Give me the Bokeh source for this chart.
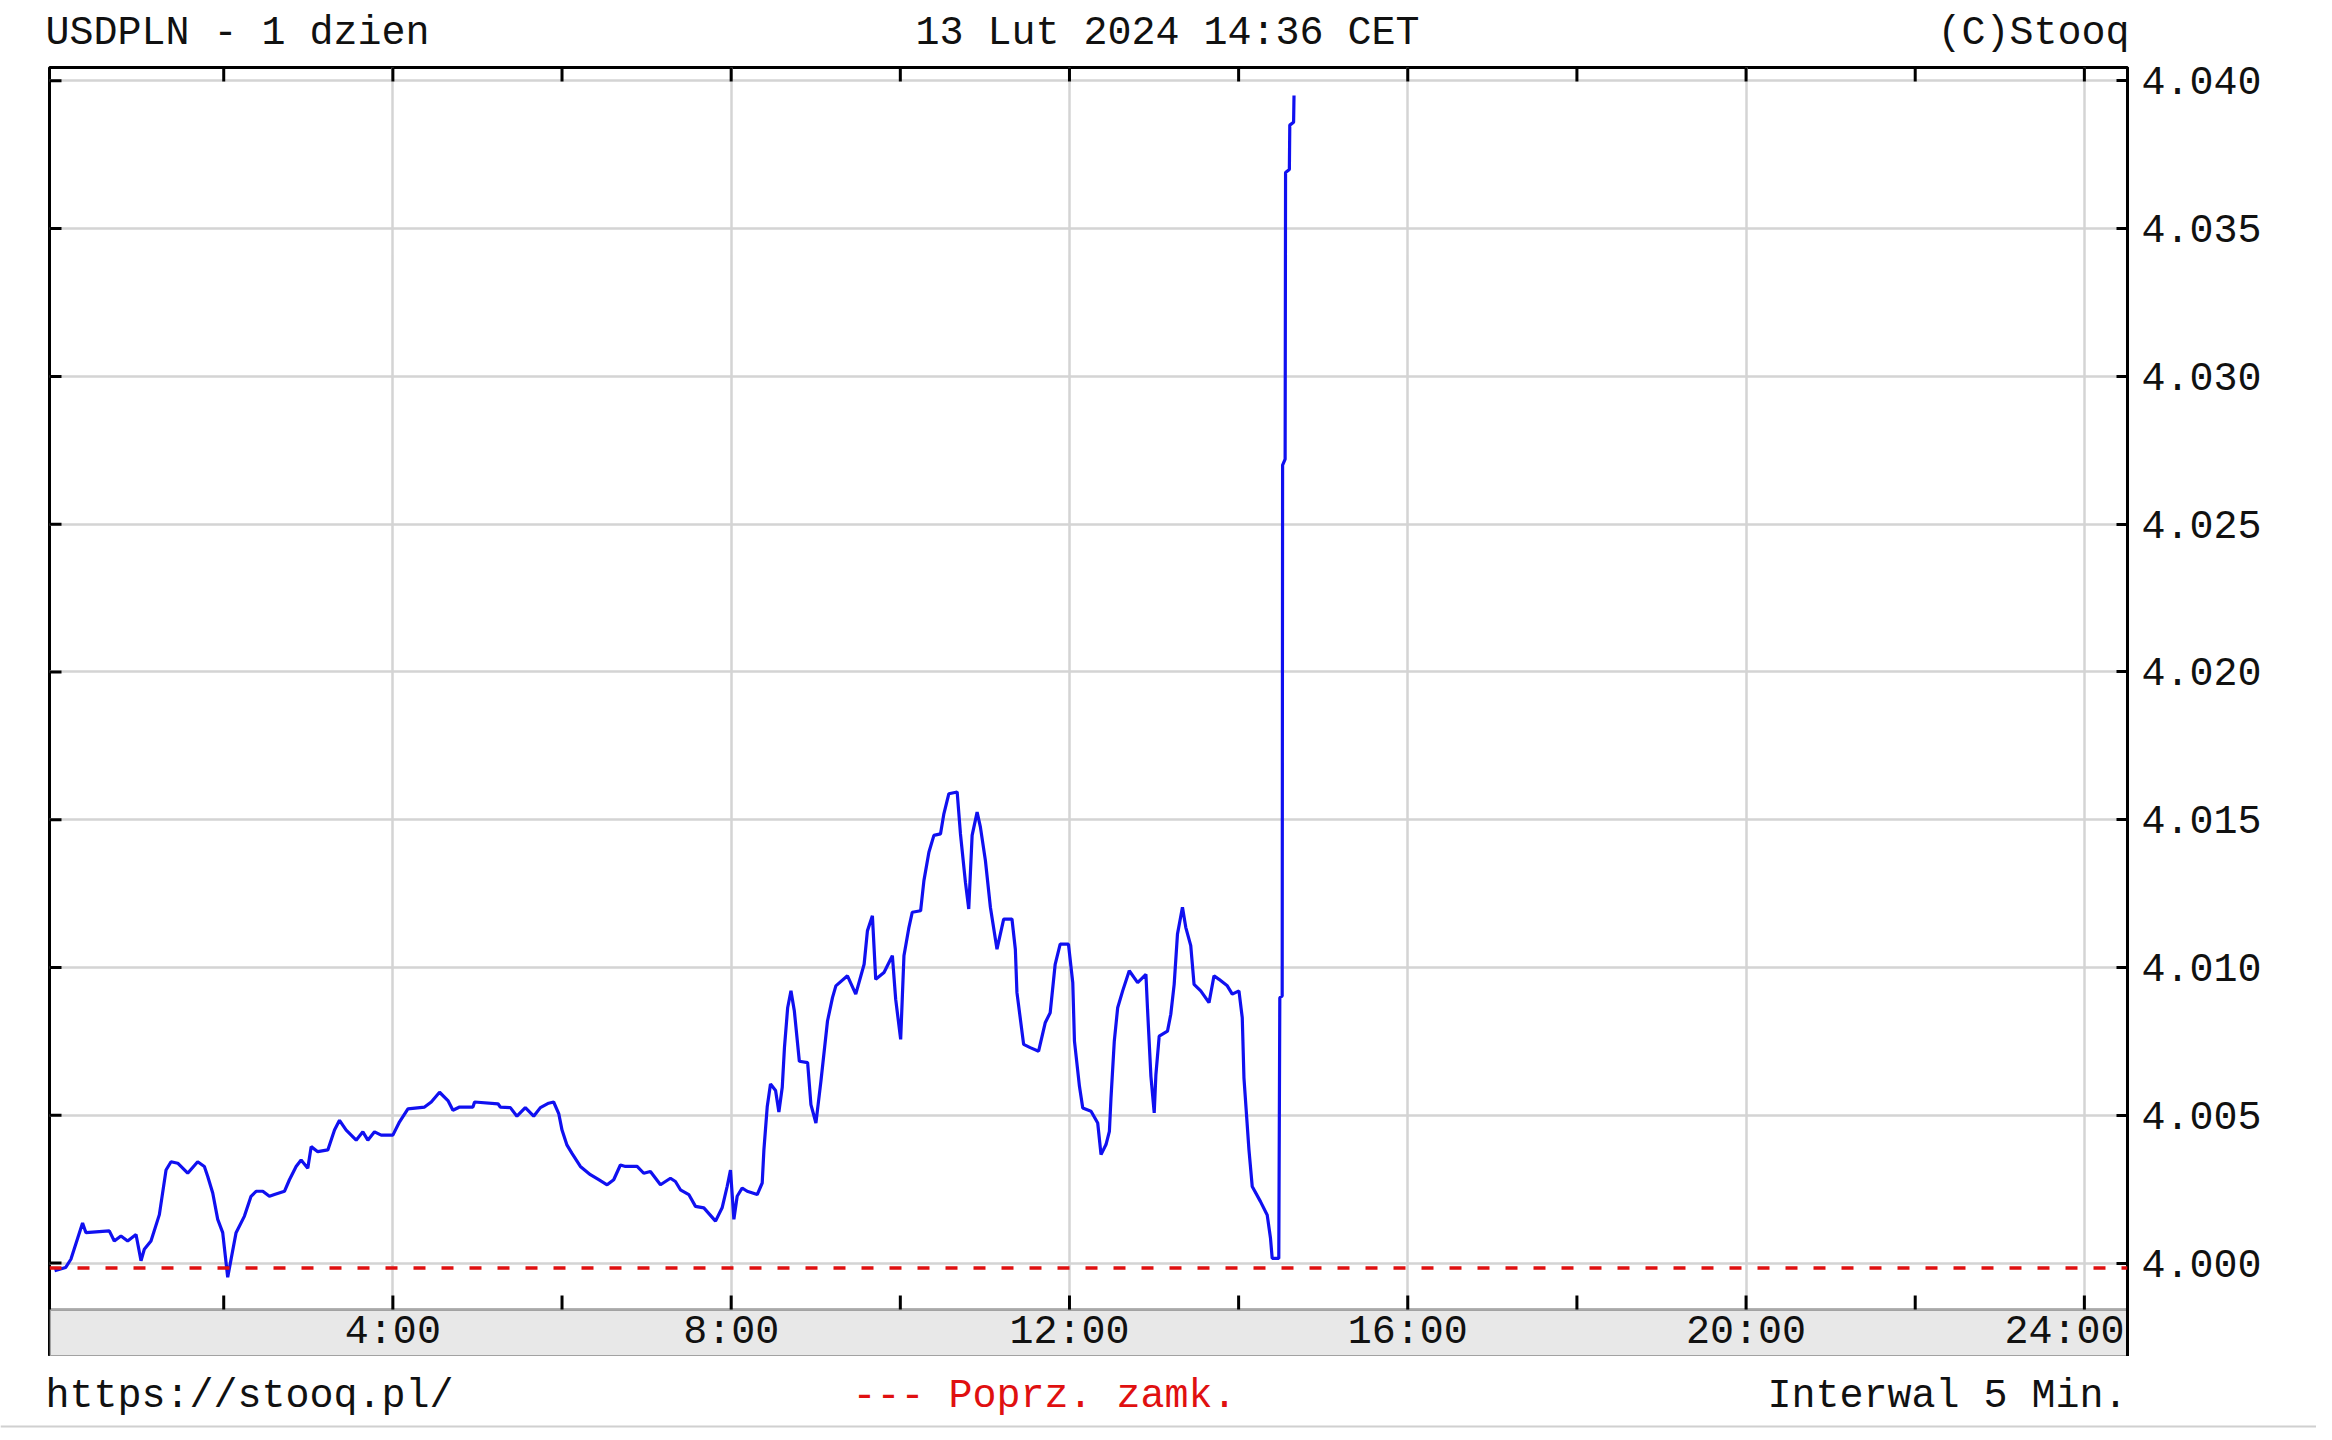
from bokeh.plotting import figure
from bokeh.models import FixedTicker, Span, BoxAnnotation, Range1d
from bokeh.layouts import column
from bokeh.core.properties import value
from bokeh.embed import file_html
from bokeh.resources import INLINE

# ---------------- data ----------------
hours = [0.00, 0.13, 0.193, 0.331, 0.371, 0.647, 0.706, 0.785, 0.864, 0.963, 1.022, 1.061, 1.140,
         1.239, 1.318, 1.377, 1.456, 1.574, 1.692, 1.771, 1.811, 1.870, 1.929, 1.988, 2.047, 2.087,
         2.146, 2.245, 2.323, 2.383, 2.462, 2.540, 2.600, 2.718, 2.777, 2.856, 2.915, 2.994, 3.034,
         3.112, 3.231, 3.310, 3.369, 3.448, 3.566, 3.645, 3.704, 3.783, 3.862, 4.000, 4.079, 4.178,
         4.375, 4.454, 4.552, 4.651, 4.710, 4.789, 4.947, 4.966, 5.243, 5.270, 5.389, 5.467, 5.566,
         5.665, 5.744, 5.842, 5.901, 5.961, 6.000, 6.059, 6.118, 6.217, 6.335, 6.434, 6.533, 6.611,
         6.690, 6.750, 6.888, 6.966, 7.045, 7.164, 7.282, 7.341, 7.400, 7.499, 7.578, 7.677, 7.815,
         7.893, 7.953, 7.992, 8.032, 8.071, 8.130, 8.189, 8.308, 8.367, 8.387, 8.426, 8.465, 8.525,
         8.564, 8.604, 8.630, 8.668, 8.707, 8.747, 8.806, 8.904, 8.943, 9.002, 9.061, 9.139, 9.198,
         9.238, 9.375, 9.473, 9.572, 9.611, 9.670, 9.709, 9.807, 9.906, 9.945, 10.004, 10.043,
         10.102, 10.141, 10.240, 10.279, 10.338, 10.397, 10.475, 10.515, 10.574, 10.672, 10.711,
         10.770, 10.809, 10.849, 10.908, 10.947, 11.006, 11.065, 11.143, 11.222, 11.320, 11.360,
         11.379, 11.458, 11.536, 11.635, 11.713, 11.772, 11.831, 11.890, 11.988, 12.039, 12.059,
         12.118, 12.157, 12.255, 12.334, 12.373, 12.432, 12.472, 12.491, 12.530, 12.570, 12.629,
         12.707, 12.806, 12.904, 12.923, 12.963, 13.002, 13.022, 13.061, 13.159, 13.198, 13.238,
         13.277, 13.336, 13.375, 13.434, 13.473, 13.552, 13.650, 13.709, 13.768, 13.866, 13.925,
         14.004, 14.043, 14.063, 14.122, 14.161, 14.259, 14.338, 14.377, 14.397, 14.475, 14.487,
         14.515, 14.520, 14.550, 14.555, 14.600, 14.605, 14.650, 14.655]
rates = [3.99974, 3.99985, 4.00013, 4.00136, 4.00103, 4.00109, 4.00075, 4.00092, 4.00075, 4.00097,
         4.00008, 4.00047, 4.00075, 4.00164, 4.00315, 4.00343, 4.00338, 4.00304, 4.00343, 4.00327,
         4.00293, 4.00237, 4.00148, 4.00103, 3.99952, 4.00013, 4.00103, 4.00159, 4.00226, 4.00243,
         4.00243, 4.00226, 4.00232, 4.00243, 4.00282, 4.00327, 4.00349, 4.00321, 4.00394, 4.00377,
         4.00383, 4.00450, 4.00483, 4.00450, 4.00416, 4.00444, 4.00416, 4.00444, 4.00433, 4.00433,
         4.00478, 4.00522, 4.00528, 4.00545, 4.00578, 4.00550, 4.00517, 4.00528, 4.00528, 4.00545,
         4.00539, 4.00528, 4.00526, 4.00497, 4.00526, 4.00497, 4.00526, 4.00541, 4.00545, 4.00506,
         4.00450, 4.00399, 4.00371, 4.00327, 4.00299, 4.00282, 4.00265, 4.00282, 4.00332, 4.00327,
         4.00327, 4.00304, 4.00310, 4.00265, 4.00287, 4.00276, 4.00248, 4.00232, 4.00192, 4.00187,
         4.00142, 4.00187, 4.00260, 4.00315, 4.00148, 4.00226, 4.00254, 4.00243, 4.00232, 4.00271,
         4.00383, 4.00528, 4.00606, 4.00584, 4.00511, 4.00595, 4.00729, 4.00864, 4.00921, 4.00853,
         4.00683, 4.00678, 4.00536, 4.00474, 4.00615, 4.00819, 4.00898, 4.00938, 4.00972, 4.00910,
         4.01011, 4.01124, 4.01175, 4.00960, 4.00983, 4.01040, 4.00893, 4.00757, 4.01040, 4.01136,
         4.01187, 4.01192, 4.01294, 4.01390, 4.01447, 4.01452, 4.01520, 4.01588, 4.01594, 4.01452,
         4.01288, 4.01198, 4.01447, 4.01526, 4.01475, 4.01362, 4.01204, 4.01062, 4.01164, 4.01164,
         4.01062, 4.00915, 4.00740, 4.00729, 4.00717, 4.00813, 4.00847, 4.01011, 4.01079, 4.01079,
         4.00949, 4.00751, 4.00598, 4.00525, 4.00514, 4.00474, 4.00367, 4.00401, 4.00446, 4.00559,
         4.00751, 4.00864, 4.00921, 4.00989, 4.00949, 4.00977, 4.00859, 4.00632, 4.00508, 4.00638,
         4.00768, 4.00785, 4.00842, 4.00943, 4.01113, 4.01204, 4.01136, 4.01074, 4.00943, 4.00921,
         4.00881, 4.00972, 4.00960, 4.00938, 4.00910, 4.00921, 4.00830, 4.00627, 4.00384, 4.00259,
         4.00208, 4.00163, 4.00084, 4.00016, 4.00016, 4.00898, 4.00904, 4.02700, 4.02720, 4.03690,
         4.03700, 4.03850, 4.03860, 4.03950]
prev_close = 3.99983

y_ticks = [4.000, 4.005, 4.010, 4.015, 4.020, 4.025, 4.030, 4.035, 4.040]
y_tick_labels = ["4.000", "4.005", "4.010", "4.015", "4.020", "4.025", "4.030", "4.035", "4.040"]
x_minor_ticks = [2, 4, 6, 8, 10, 12, 14, 16, 18, 20, 22, 24]
x_grid_ticks = [4, 8, 12, 16, 20, 24]
x_tick_labels = ["4:00", "8:00", "12:00", "16:00", "20:00", "24:00"]

title_left = "USDPLN - 1 dzien"
title_center = "13 Lut 2024 14:36 CET"
title_right = "(C)Stooq"
foot_left = "https://stooq.pl/"
foot_center = "--- Poprz. zamk."
foot_right = "Interwal 5 Min."

# ---------------- layout ----------------
W = 2316
HEAD_H = 57
MAIN_TOP = 10
FL, FR = 49, 2127
FRAME_H = 1289
MAIN_H = MAIN_TOP + FRAME_H
FOOT_H = 76
FT, FB = MAIN_TOP, MAIN_TOP + FRAME_H
X0, X1 = -0.06, 24.51
Y0, Y1 = 3.99684, 4.04045
BAND_TOP_PX = 1252
BAND_MID_PX = 1275

FONT = "Liberation Mono"
FS = "40px"
INK = "#111111"
RED = "#e01010"


def dx(px):
    return X0 + (px - FL) / (FR - FL) * (X1 - X0)


def dy(py):
    return Y1 - (py - FT) / (FB - FT) * (Y1 - Y0)


def strip_fig(h):
    f = figure(width=W, height=h, output_backend="svg", toolbar_location=None,
               x_range=Range1d(0, W), y_range=Range1d(h, 0),
               x_axis_location=None, y_axis_location=None,
               min_border=0, min_border_left=0, min_border_right=0,
               min_border_top=0, min_border_bottom=0, frame_align=False)
    f.title.visible = False
    f.outline_line_color = None
    f.xgrid.visible = False
    f.ygrid.visible = False
    f.background_fill_color = "white"
    f.border_fill_color = "white"
    return f


def txt(f, x, y, t, align, color=INK):
    f.text(x=[x], y=[y], text=[t], text_font=value(FONT), text_font_size=FS,
           text_align=align, text_baseline="middle", text_color=color)


# header
head = strip_fig(HEAD_H)
txt(head, 45, 33, title_left, "left")
txt(head, 1167, 33, title_center, "center")
txt(head, 2129, 33, title_right, "right")

# main chart
p = figure(width=W, height=MAIN_H, output_backend="svg", toolbar_location=None,
           x_range=Range1d(X0, X1), y_range=Range1d(Y0, Y1),
           x_axis_location=None, y_axis_location="right",
           min_border_left=FL, min_border_right=W - FR,
           min_border_top=MAIN_TOP, min_border_bottom=0, frame_align=False)
p.title.visible = False
p.background_fill_color = "white"
p.border_fill_color = "white"
p.outline_line_color = "black"
p.outline_line_width = 3

ya = p.yaxis[0]
ya.ticker = FixedTicker(ticks=y_ticks)
ya.major_label_overrides = {t: l for t, l in zip(y_ticks, y_tick_labels)}
ya.major_tick_in = 11
ya.major_tick_out = 0
ya.minor_tick_in = 0
ya.minor_tick_out = 0
ya.axis_line_width = 3
ya.major_tick_line_width = 3
ya.major_label_standoff = 14
ya.major_label_text_font = FONT
ya.major_label_text_font_size = FS
ya.major_label_text_color = INK

p.xgrid[0].ticker = FixedTicker(ticks=x_grid_ticks)
p.ygrid[0].ticker = FixedTicker(ticks=y_ticks)
for g in (p.xgrid[0], p.ygrid[0]):
    g.grid_line_color = "#d4d4d4"
    g.grid_line_width = 2.5

# gray time band
band_top = dy(BAND_TOP_PX)
band = BoxAnnotation(top=band_top, fill_color="#e8e8e8", fill_alpha=1.0,
                     line_color="black", line_width=3, level="underlay")
p.add_layout(band)

n = len(x_minor_ticks)
# ticks on band top (pointing up)
p.segment(x0=x_minor_ticks, y0=[band_top] * n, x1=x_minor_ticks,
          y1=[dy(BAND_TOP_PX - 14)] * n, line_color="black", line_width=3)
# ticks on frame top (pointing down)
p.segment(x0=x_minor_ticks, y0=[Y1] * n, x1=x_minor_ticks,
          y1=[dy(FT + 14)] * n, line_color="black", line_width=3)
# ticks on frame left (pointing right)
m = len(y_ticks)
p.segment(x0=[X0] * m, y0=y_ticks, x1=[dx(FL + 12)] * m, y1=y_ticks,
          line_color="black", line_width=3)

# time labels in band
band_mid = dy(BAND_MID_PX)
p.text(x=x_grid_ticks[:-1], y=[band_mid] * (len(x_grid_ticks) - 1), text=x_tick_labels[:-1],
       text_font=value(FONT), text_font_size=FS, text_align="center",
       text_baseline="middle", text_color=INK)
p.text(x=[dx(FR - 3)], y=[band_mid], text=x_tick_labels[-1:],
       text_font=value(FONT), text_font_size=FS, text_align="right",
       text_baseline="middle", text_color=INK)

# previous close
p.add_layout(Span(location=prev_close, dimension="width", line_color=RED,
                  line_width=3.5, line_dash="12 16"))

# price line
p.line(hours, rates, line_color="#1010f0", line_width=3.2)

# footer
foot = strip_fig(FOOT_H)
txt(foot, 45, 40, foot_left, "left")
txt(foot, 852, 40, foot_center, "left", color=RED)
txt(foot, 2127, 40, foot_right, "right")
foot.add_layout(Span(location=70, dimension="width", line_color="#d0d0d0", line_width=2))

layout = column(head, p, foot, spacing=0)
open("out.html", "w").write(file_html(layout, INLINE))
